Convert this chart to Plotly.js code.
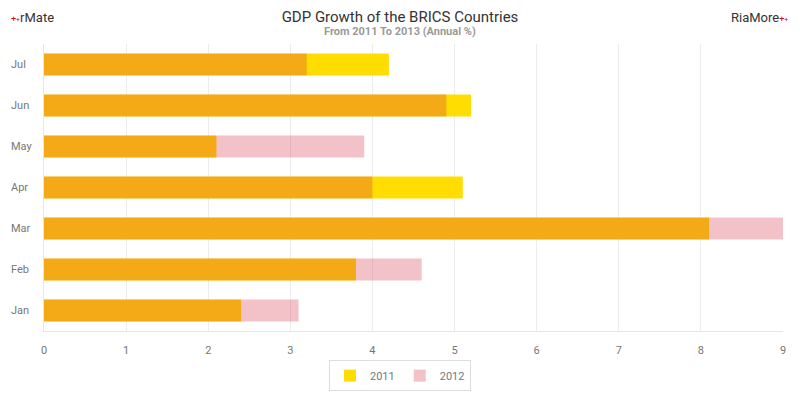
<!DOCTYPE html>
<html>
<head>
<meta charset="utf-8">
<script src="https://cdn.plot.ly/plotly-3.0.1.min.js"></script>
<style>html,body{margin:0;padding:0;background:#fff;}#chart{width:800px;height:400px;}</style>
</head>
<body>
<div id="chart"></div>
<script>
const months = ["Jan", "Feb", "Mar", "Apr", "May", "Jun", "Jul"];
const values2011 = [2.4, 3.8, 8.1, 5.1, 2.1, 5.2, 4.2];
const values2012 = [3.1, 4.6, 9.0, 4.0, 3.9, 4.9, 3.2];
const seriesNames = ["2011", "2012"];
const xTicks = [0, 1, 2, 3, 4, 5, 6, 7, 8, 9];

const font = "Roboto, 'Liberation Sans', Arial, sans-serif";

const traces = [
  {
    type: "bar", orientation: "h", name: seriesNames[0],
    y: months, x: values2011,
    marker: {color: "#FFDD00", line: {width: 0}},
    hoverinfo: "x+y"
  },
  {
    type: "bar", orientation: "h", name: seriesNames[1],
    y: months, x: values2012,
    marker: {color: "rgba(214,52,72,0.3)", line: {width: 0}},
    hoverinfo: "x+y"
  }
];

const annotations = months.map(m => ({
  xref: "paper", yref: "y", x: -0.047, y: m, text: m,
  xanchor: "left", yanchor: "middle", showarrow: false,
  font: {family: font, size: 11, color: "#777"}
}));
annotations.push(
  {xref: "paper", yref: "paper", x: -0.047, y: 1.094, xanchor: "left", yanchor: "middle",
   text: "<span style='color:#e00000;font-size:9px'>+</span><span style='color:#e00000;font-size:7px'>+</span>rMate",
   showarrow: false, font: {family: font, size: 13, color: "#333"}},
  {xref: "paper", yref: "paper", x: 1.0095, y: 1.094, xanchor: "right", yanchor: "middle",
   text: "RiaMore<span style='color:#e00000;font-size:9px'>+</span><span style='color:#e00000;font-size:7px'>+</span>",
   showarrow: false, font: {family: font, size: 13, color: "#333"}},
  {xref: "paper", yref: "paper", x: 0.4817, y: 1.045, xanchor: "center", yanchor: "middle",
   text: "<b>From 2011 To 2013 (Annual %)</b>",
   showarrow: false, font: {family: font, size: 11, color: "#9a9a9a"}}
);

const layout = {
  width: 800, height: 400,
  margin: {l: 44, r: 17, t: 44, b: 69},
  paper_bgcolor: "#fff", plot_bgcolor: "#fff",
  barmode: "overlay", bargap: 0.46,
  font: {family: font, color: "#777"},
  title: {
    text: "GDP Growth of the BRICS Countries",
    x: 0.5, xref: "container", xanchor: "center",
    y: 0.9575, yref: "container", yanchor: "middle",
    font: {family: font, size: 15, color: "#333"}
  },
  xaxis: {
    range: [0, 9], tickvals: xTicks, ticktext: xTicks.map(String),
    showgrid: true, gridcolor: "#ececec", gridwidth: 1,
    zeroline: false, showline: true, linecolor: "#e6e6e6", mirror: false,
    ticks: "", ticklabelstandoff: 9,
    tickfont: {family: font, size: 11, color: "#777"},
    fixedrange: true
  },
  yaxis: {
    type: "category", categoryorder: "array", categoryarray: months,
    range: [-0.5, 6.5],
    showgrid: false, zeroline: false, showline: true, linecolor: "#e6e6e6",
    showticklabels: false, ticks: "", fixedrange: true
  },
  showlegend: true,
  legend: {
    orientation: "h", xref: "container", x: 0.5, xanchor: "center",
    yref: "container", y: 0.061, yanchor: "middle",
    bordercolor: "#dddddd", borderwidth: 1, bgcolor: "#fff",
    font: {family: font, size: 11, color: "#777"},
    itemwidth: 30, traceorder: "normal"
  },
  annotations: annotations
};

Plotly.newPlot("chart", traces, layout, {displayModeBar: false, staticPlot: true});
</script>
</body>
</html>
